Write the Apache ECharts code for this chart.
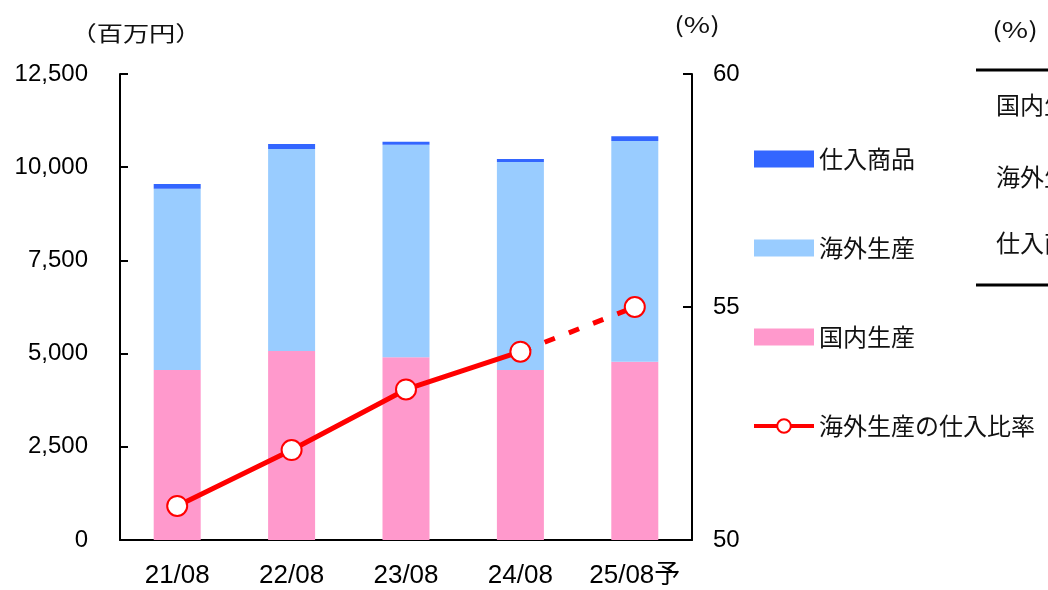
<!DOCTYPE html>
<html>
<head>
<meta charset="utf-8">
<script src="https://cdn.jsdelivr.net/npm/echarts@6/dist/echarts.min.js"></script>
<style>
html,body{margin:0;padding:0;background:#fff;}
#c{width:1048px;height:590px;}
</style>
</head>
<body>
<div id="c"></div>
<script>
var categories = ['21/08', '22/08', '23/08', '24/08', '25/08予'];
var domestic = [4560, 5070, 4900, 4560, 4780];
var overseas = [4860, 5420, 5700, 5580, 5920];
var purchased = [130, 130, 80, 80, 130];
var overseasRatio = [50.73, 51.93, 53.23, 54.04, 55.0];
var leftTicks = [0, 2500, 5000, 7500, 10000, 12500];
var rightTicks = [50, 55, 60];
var tableRows = ['国内生産', '海外生産', '仕入商品'];

var numFont = '"Liberation Sans", "Noto Sans CJK JP", sans-serif';
var jpFont = '"Noto Sans CJK JP", sans-serif';

var solidRatio = overseasRatio.map(function (v, i) { return i < 4 ? v : null; });
var dashRatio = overseasRatio.map(function (v, i) {
  if (i === 3) return { value: v, symbol: 'none' };
  return i > 3 ? v : null;
});

var chart = echarts.init(document.getElementById('c'), null, { renderer: 'canvas' });
var axisLineStyle = { color: '#000', width: 2 };

function label(text, x, y, size, sx, align) {
  return {
    type: 'text', x: x, y: y, scaleX: sx,
    style: { text: text, x: 0, y: 0, fontSize: size, fontFamily: jpFont, fill: '#111',
      textAlign: align || 'center', textVerticalAlign: 'middle' }
  };
}

chart.setOption({
  animation: false,
  backgroundColor: '#fff',
  grid: { left: 120, right: 356, top: 74, bottom: 50, containLabel: false },
  legend: {
    orient: 'vertical',
    left: 747,
    top: 142,
    itemWidth: 60,
    itemHeight: 17,
    itemGap: 65,
    selectedMode: false,
    textStyle: { fontSize: 24, color: '#111', fontFamily: jpFont },
    data: [
      { name: '仕入商品', icon: 'rect' },
      { name: '海外生産', icon: 'rect' },
      { name: '国内生産', icon: 'rect' },
      { name: '海外生産の仕入比率', lineStyle: { width: 4, color: '#FF0000' },
        itemStyle: { color: '#fff', borderColor: '#FF0000', borderWidth: 2 } }
    ]
  },
  xAxis: {
    type: 'category',
    data: categories,
    axisLine: { lineStyle: axisLineStyle },
    axisTick: { inside: true, length: 8, lineStyle: { color: '#000', width: 2 } },
    axisLabel: { color: '#000', fontSize: 26, fontFamily: numFont, margin: 23, interval: 0 },
    splitLine: { show: false }
  },
  yAxis: [
    {
      type: 'value',
      min: leftTicks[0],
      max: leftTicks[leftTicks.length - 1],
      interval: leftTicks[1] - leftTicks[0],
      axisLine: { show: true, lineStyle: axisLineStyle },
      axisTick: { show: true, inside: true, length: 8, lineStyle: { color: '#000', width: 2 } },
      axisLabel: {
        color: '#000', fontSize: 24, fontFamily: numFont, margin: 32,
        formatter: function (v) { return v.toLocaleString('en-US'); }
      },
      splitLine: { show: false }
    },
    {
      type: 'value',
      min: rightTicks[0],
      max: rightTicks[rightTicks.length - 1],
      interval: rightTicks[1] - rightTicks[0],
      position: 'right',
      axisLine: { show: true, lineStyle: axisLineStyle },
      axisTick: { show: true, inside: true, length: 9, lineStyle: { color: '#000', width: 2 } },
      axisLabel: { color: '#000', fontSize: 24, fontFamily: numFont, margin: 21 },
      splitLine: { show: false }
    }
  ],
  series: [
    {
      name: '国内生産', type: 'bar', stack: 'total', data: domestic, barWidth: 47,
      itemStyle: { color: '#FF99CC' }
    },
    {
      name: '海外生産', type: 'bar', stack: 'total', data: overseas, barWidth: 47,
      itemStyle: { color: '#99CCFF' }
    },
    {
      name: '仕入商品', type: 'bar', stack: 'total', data: purchased, barWidth: 47,
      itemStyle: { color: '#3366FF' }
    },
    {
      name: '海外生産の仕入比率（予）', type: 'line', yAxisIndex: 1, data: dashRatio,
      symbol: 'circle', symbolSize: 20,
      itemStyle: { color: '#fff', borderColor: '#FF0000', borderWidth: 2 },
      lineStyle: { color: '#FF0000', width: 5, type: [11, 15] },
      z: 3
    },
    {
      name: '海外生産の仕入比率', type: 'line', yAxisIndex: 1, data: solidRatio,
      symbol: 'circle', symbolSize: 20, connectNulls: false,
      itemStyle: { color: '#fff', borderColor: '#FF0000', borderWidth: 2 },
      lineStyle: { color: '#FF0000', width: 5 },
      z: 4
    }
  ],
  graphic: [
    label('（百万円）', 136, 33, 21, 1.25),
    label('(%)', 697, 25, 22, 1.3),
    label('(%)', 1015, 30, 22, 1.3),
    { type: 'line', shape: { x1: 976, y1: 70, x2: 1048, y2: 70 }, style: { stroke: '#000', lineWidth: 3 } },
    { type: 'line', shape: { x1: 976, y1: 285, x2: 1048, y2: 285 }, style: { stroke: '#000', lineWidth: 3 } },
    label(tableRows[0], 996, 105, 24, 1, 'left'),
    label(tableRows[1], 996, 177, 24, 1, 'left'),
    label(tableRows[2], 996, 243, 24, 1, 'left')
  ]
});
</script>
</body>
</html>
